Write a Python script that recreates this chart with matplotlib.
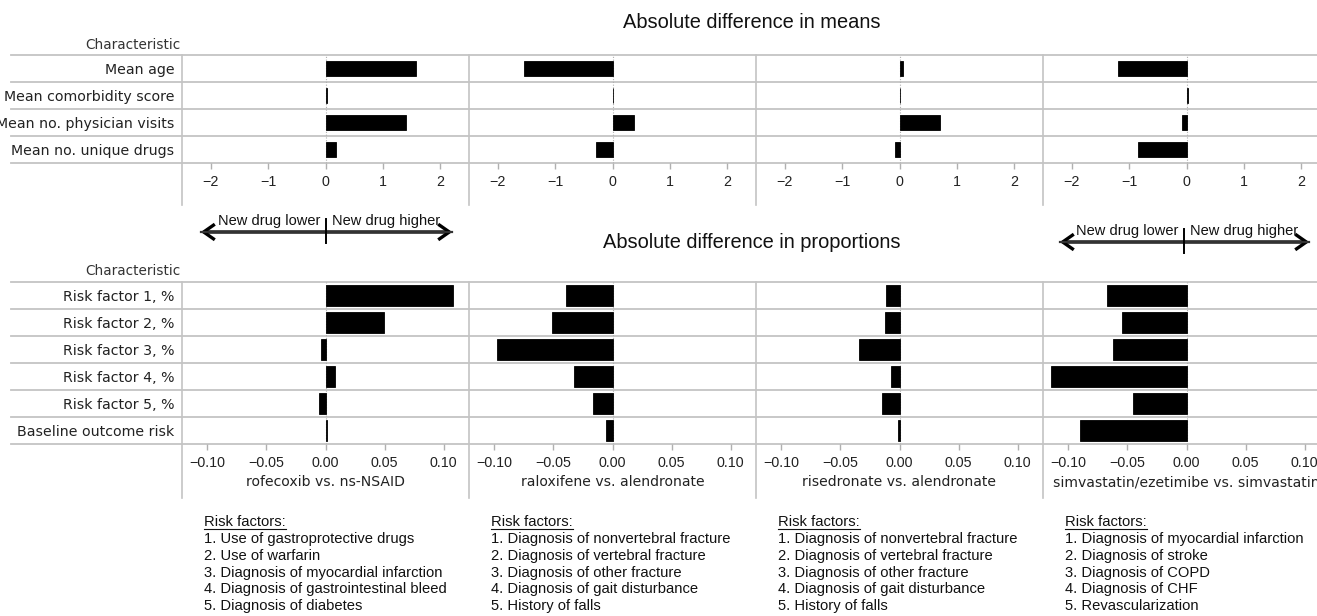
import matplotlib
matplotlib.use("Agg")
import matplotlib.pyplot as plt
from matplotlib.patches import FancyArrowPatch
import numpy as np

W, H = 1317, 616

comparisons = [
    "rofecoxib vs. ns-NSAID",
    "raloxifene vs. alendronate",
    "risedronate vs. alendronate",
    "simvastatin/ezetimibe vs. simvastatin",
]

mean_rows = ["Mean age", "Mean comorbidity score",
             "Mean no. physician visits", "Mean no. unique drugs"]
prop_rows = ["Risk factor 1, %", "Risk factor 2, %", "Risk factor 3, %",
             "Risk factor 4, %", "Risk factor 5, %", "Baseline outcome risk"]

# absolute difference in means (new drug - comparator)
mean_rofecoxib = [1.57, 0.03, 1.41, 0.18]
mean_raloxifene = [-1.55, 0.01, 0.37, -0.29]
mean_risedronate = [0.06, 0.005, 0.70, -0.07]
mean_simvastatin = [-1.19, 0.02, -0.07, -0.84]

# absolute difference in proportions
prop_rofecoxib = [0.108, 0.0495, -0.0034, 0.008, -0.0056, 0.001]
prop_raloxifene = [-0.0395, -0.051, -0.0975, -0.0325, -0.0164, -0.0056]
prop_risedronate = [-0.0116, -0.0127, -0.0347, -0.0073, -0.015, -0.001]
prop_simvastatin = [-0.067, -0.0545, -0.0625, -0.115, -0.045, -0.090]

risk_rofecoxib = ["Use of gastroprotective drugs", "Use of warfarin",
                  "Diagnosis of myocardial infarction",
                  "Diagnosis of gastrointestinal bleed", "Diagnosis of diabetes"]
risk_raloxifene = ["Diagnosis of nonvertebral fracture", "Diagnosis of vertebral fracture",
                   "Diagnosis of other fracture", "Diagnosis of gait disturbance",
                   "History of falls"]
risk_risedronate = ["Diagnosis of nonvertebral fracture", "Diagnosis of vertebral fracture",
                    "Diagnosis of other fracture", "Diagnosis of gait disturbance",
                    "History of falls"]
risk_simvastatin = ["Diagnosis of myocardial infarction", "Diagnosis of stroke",
                    "Diagnosis of COPD", "Diagnosis of CHF", "Revascularization"]

means = [mean_rofecoxib, mean_raloxifene, mean_risedronate, mean_simvastatin]
props = [prop_rofecoxib, prop_raloxifene, prop_risedronate, prop_simvastatin]
risks = [risk_rofecoxib, risk_raloxifene, risk_risedronate, risk_simvastatin]

ARIAL = "Liberation Sans"
GRID = "#c4c4c4"


def box(left, top, width, height):
    # pixel box -> figure fraction
    return [left / W, 1 - (top + height) / H, width / W, height / H]


fig = plt.figure(figsize=(W / 100, H / 100), dpi=100)

panel_left = 182
panel_w = 287


def draw_group(rows, values, top, height, lim, ticks, fmt, bar_h, xlabels):
    n = len(rows)
    # background: row separators across the label column and the panels
    bg = fig.add_axes(box(11, top, 1330 - 11, height))
    bg.set_ylim(n - 0.5, -0.5)
    bg.set_xlim(0, 1)
    bg.axis("off")
    for k in range(n + 1):
        bg.axhline(k - 0.5, color=GRID, lw=1.3, clip_on=False)

    for i, vals in enumerate(values):
        ax = fig.add_axes(box(panel_left + i * panel_w, top, panel_w, height))
        ax.patch.set_visible(False)
        y = np.arange(n)
        ax.barh(y, vals, height=bar_h, color="black", edgecolor="black", lw=0.6, zorder=3)
        ax.axvline(0, color="#b0b0b0", ls=(0, (1, 1.5)), lw=0.8, zorder=2)
        ax.set_xlim(-lim, lim)
        ax.set_ylim(n - 0.5, -0.5)
        for s in ax.spines.values():
            s.set_visible(False)
        ax.set_xticks(ticks)
        ax.set_xticklabels([fmt(t) for t in ticks], fontfamily=ARIAL, fontsize=10.3, color="#222222")
        ax.tick_params(axis="x", direction="out", length=4.5, width=1, color="#b0b0b0", pad=4)
        ax.set_yticks(y)
        if i == 0:
            ax.set_yticklabels(rows, fontfamily="DejaVu Sans", fontsize=10.2, color="#222222")
            ax.tick_params(axis="y", length=0, pad=5.5)
        else:
            ax.set_yticklabels([])
            ax.tick_params(axis="y", length=0)
        if xlabels is not None:
            ax.set_xlabel(xlabels[i], fontfamily="DejaVu Sans", fontsize=10.1, color="#222222", labelpad=4)


def fmt_int(t):
    return "\u2212%d" % abs(t) if t < 0 else "%d" % t


def fmt_dec(t):
    return "\u2212%.2f" % abs(t) if t < 0 else "%.2f" % t


draw_group(mean_rows, means, 55, 108, 2.5, [-2, -1, 0, 1, 2], fmt_int, 0.52, None)
draw_group(prop_rows, props, 282, 162, 0.1215, [-0.10, -0.05, 0.0, 0.05, 0.10], fmt_dec, 0.76, comparisons)

# overlay in pixel coordinates for annotations
ov = fig.add_axes([0, 0, 1, 1])
ov.set_xlim(0, W)
ov.set_ylim(H, 0)
ov.axis("off")
ov.patch.set_visible(False)

for i in range(4):
    x = panel_left + i * panel_w
    ov.plot([x, x], [55, 205], color=GRID, lw=1.2)
    ov.plot([x, x], [282, 498], color=GRID, lw=1.2)

ov.text(752, 23, "Absolute difference in means", ha="center", va="center",
        fontfamily=ARIAL, fontsize=14.4, color="#111111")
ov.text(752, 242, "Absolute difference in proportions", ha="center", va="center",
        fontfamily=ARIAL, fontsize=14.4, color="#111111")
ov.text(180, 45, "Characteristic", ha="right", va="center",
        fontfamily="DejaVu Sans", fontsize=9.8, color="#333333")
ov.text(180, 271, "Characteristic", ha="right", va="center",
        fontfamily="DejaVu Sans", fontsize=9.8, color="#333333")


def arrow(x0, x1, xc, y, ty):
    ov.plot([x0 + 3, x1 - 3], [y, y], color="#333333", lw=1.6)
    ov.add_patch(FancyArrowPatch((x0, y), (x1, y), arrowstyle="<->,head_length=5,head_width=3.5",
                                 lw=2.4, color="black", mutation_scale=1.6,
                                 joinstyle="miter", capstyle="butt"))
    ov.plot([xc, xc], [y - 13, y + 11], color="black", lw=1.4)
    ov.text(xc - 6, ty, "New drug lower", ha="right", va="center",
            fontfamily=ARIAL, fontsize=10.5, color="#111111")
    ov.text(xc + 6, ty, "New drug higher", ha="left", va="center",
            fontfamily=ARIAL, fontsize=10.5, color="#111111")


arrow(198, 455, 326, 232, 221)
arrow(1057, 1312, 1184, 242, 231)

# risk factor legends
fig.canvas.draw()
renderer = fig.canvas.get_renderer()
for i, items in enumerate(risks):
    x = panel_left + i * panel_w + 22
    head = ov.text(x, 522, "Risk factors:", ha="left", va="center",
                   fontfamily=ARIAL, fontsize=10.6, color="#111111")
    bb = head.get_window_extent(renderer=renderer)
    ov.plot([bb.x0, bb.x1], [529, 529], color="#111111", lw=0.8)
    for k, item in enumerate(items):
        ov.text(x, 539 + 16.8 * k, "%d. %s" % (k + 1, item), ha="left", va="center",
                fontfamily=ARIAL, fontsize=10.6, color="#111111")

fig.savefig("out.png", dpi=100)
